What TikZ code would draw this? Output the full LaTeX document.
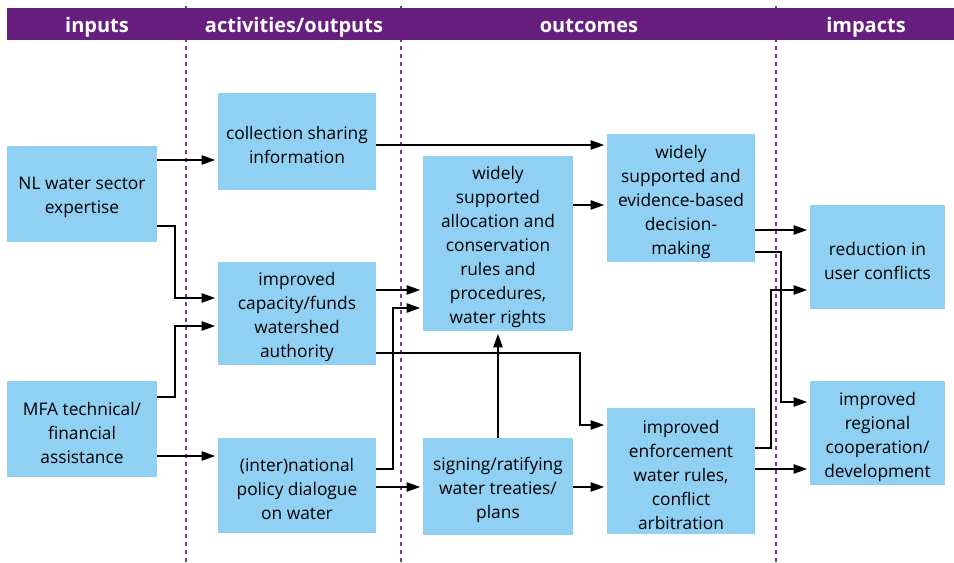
\documentclass[tikz,border=0pt]{standalone}
\usepackage{fontspec}
\setmainfont{Open Sans}
\usetikzlibrary{arrows.meta,fit}
\definecolor{boxblue}{HTML}{8FD0F3}
\definecolor{hdrpurple}{HTML}{681E7E}
\definecolor{dashpurple}{HTML}{7A3A90}
\begin{document}
\begin{tikzpicture}[x=0.75pt,y=-0.75pt,
 box/.style={fill=boxblue, draw=none, inner sep=0pt},
 btxt/.style={align=center, inner sep=0pt, yshift=-2.75pt, font=\fontsize{13}{18}\selectfont},
 arr/.style={line width=0.8pt, -{Triangle[length=10pt,width=7pt]}, shorten >=2pt},
 sep/.style={dashpurple, line width=0.8pt, dash pattern=on 3pt off 3pt},
 hdr/.style={text=white, anchor=base, font=\fontsize{15}{17}\bfseries\selectfont}]
\useasboundingbox (0,0) rectangle (954,563);
% column separators
\draw[sep] (186,6) -- (186,562);
\draw[sep] (401,6) -- (401,562);
\draw[sep] (776,6) -- (776,562);
% header
\fill[hdrpurple] (7,8) rectangle (954,40);
\node[hdr] (hin) at (97,33) {inputs};
\node[hdr] (hact) at (294,33) {activities/outputs};
\node[hdr] (hout) at (589,33) {outcomes};
\node[hdr] (himp) at (866,33) {impacts};
% boxes
\node[box, fit={(7,146)(157,242)}] (nl) {};
\node[btxt] (nl-t) at (nl.center) {NL water sector\\expertise};
\node[box, fit={(7,381)(157,477)}] (mfa) {};
\node[btxt] (mfa-t) at (mfa.center) {MFA technical/\\financial\\assistance};
\node[box, fit={(218,93)(376,190)}] (col) {};
\node[btxt] (col-t) at (col.center) {collection sharing\\information};
\node[box, fit={(218,262)(376,365)}] (cap) {};
\node[btxt] (cap-t) at (cap.center) {improved\\capacity/funds\\watershed\\authority};
\node[box, fit={(218,438)(376,533)}] (dia) {};
\node[btxt] (dia-t) at (dia.center) {(inter)national\\policy dialogue\\on water};
\node[box, fit={(423,156)(573,331)}] (alloc) {};
\node[btxt] (alloc-t) at (alloc.center) {widely\\supported\\allocation and\\conservation\\rules and\\procedures,\\water rights};
\node[box, fit={(423,438)(573,535)}] (sign) {};
\node[btxt] (sign-t) at (sign.center) {signing/ratifying\\water treaties/\\plans};
\node[box, fit={(607,134)(755,262)}] (evid) {};
\node[btxt] (evid-t) at (evid.center) {widely\\supported and\\evidence-based\\decision-\\making};
\node[box, fit={(607,408)(755,534)}] (enf) {};
\node[btxt] (enf-t) at (enf.center) {improved\\enforcement\\water rules,\\conflict\\arbitration};
\node[box, fit={(810,205)(945,309)}] (red) {};
\node[btxt] (red-t) at (red.center) {reduction in\\user conflicts};
\node[box, fit={(810,381)(945,485)}] (reg) {};
\node[btxt] (reg-t) at (reg.center) {improved\\regional\\cooperation/\\development};
% connectors
\draw[arr] (nl.east |- 0,160) -- (col.west |- 0,160);
\draw[arr] (col.east |- 0,145) -- (evid.west |- 0,145);
\draw[arr] (nl.east |- 0,226) -- (175,226) -- (175,298) -- (cap.west |- 0,298);
\draw[arr] (mfa.east |- 0,397) -- (175,397) -- (175,326) -- (cap.west |- 0,326);
\draw[arr] (mfa.east |- 0,456) -- (dia.west |- 0,456);
\draw[arr] (cap.east |- 0,290) -- (alloc.west |- 0,290);
\draw[arr] (dia.east |- 0,469) -- (393,469) -- (393,308) -- (alloc.west |- 0,308);
\draw[arr] (dia.east |- 0,487) -- (sign.west |- 0,487);
\draw[arr] (cap.east |- 0,353) -- (580,353) -- (580,425) -- (enf.west |- 0,425);
\draw[arr] (sign.north -| 498,0) -- (alloc.south -| 498,0);
\draw[arr] (sign.east |- 0,487) -- (enf.west |- 0,487);
\draw[arr] (alloc.east |- 0,205) -- (evid.west |- 0,205);
\draw[arr] (evid.east |- 0,230) -- (red.west |- 0,230);
\draw[arr] (evid.east |- 0,252) -- (781,252) -- (781,402) -- (reg.west |- 0,402);
\draw[arr] (enf.east |- 0,448) -- (771,448) -- (771,290) -- (red.west |- 0,290);
\draw[arr] (enf.east |- 0,469) -- (reg.west |- 0,469);
\end{tikzpicture}
\end{document}
